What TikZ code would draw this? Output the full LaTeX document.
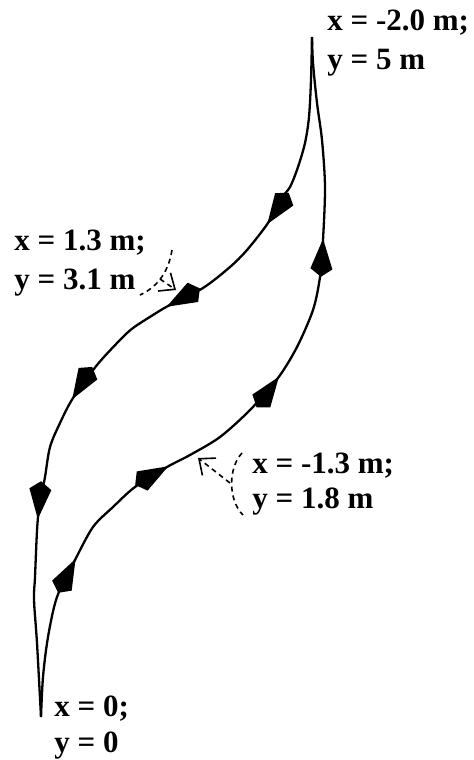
\documentclass[tikz,border=0pt]{standalone}
\usepackage{fontspec}
\setmainfont{Liberation Serif}
\usetikzlibrary{decorations.markings,arrows.meta}
\begin{document}
\begin{tikzpicture}[x=0.5pt,y=-0.5pt,
  lbl/.style={anchor=base west, inner sep=0pt, font=\bfseries\fontsize{15.5}{18}\selectfont},
  flow/.style={line width=1.15pt, line join=round},
  kite/.tip={Kite[length=19pt,width=11pt,inset=4pt]},
  hint/.style={dash pattern=on 2.5pt off 2pt, line width=0.8pt},
  hintarrow/.style={hint, -{Straight Barb[length=6.5pt,width=11pt]}}
]
\useasboundingbox (0,0) rectangle (474,760);

% end points of the loop
\coordinate (top) at (312,37);
\coordinate (bot) at (41,717);

% left branch: from top down to bottom
\draw[flow, postaction={decorate}, decoration={markings,
  mark=at position 0.250 with {\arrow{kite}},
  mark=at position 0.418 with {\arrow{kite}},
  mark=at position 0.588 with {\arrow{kite}},
  mark=at position 0.748 with {\arrow{kite}}}]
  plot[smooth, tension=0.5] coordinates {(top) (311,80) (309,117) (305,143) (298,167) (290,187) (280,200) (268,223) (247,250) (230,267) (203,288) (168,306) (153,315) (133,328) (120,340) (97,365) (73,398) (60,423) (50,447) (45,477) (38,517) (35,577) (34,600) (37,643) (bot)};

% right branch: from bottom up to top
\draw[flow, postaction={decorate}, decoration={markings,
  mark=at position 0.207 with {\arrow{kite}},
  mark=at position 0.376 with {\arrow{kite}},
  mark=at position 0.558 with {\arrow{kite}},
  mark=at position 0.744 with {\arrow{kite}}}]
  plot[smooth, tension=0.5] coordinates {(bot) (43,677) (48,637) (57,597) (75,560) (93,527) (113,507) (135,487) (167,467) (190,455) (220,437) (250,410) (278,378) (297,347) (313,310) (320,277) (323,240) (325,187) (322,140) (317,103) (313,63) (top)};

% labels
\node[lbl] (t1) at (327,30) {x = -2.0 m;};
\node[lbl] (t2) at (327,69) {y = 5 m};
\node[lbl] (u1) at (14,250) {x = 1.3 m;};
\node[lbl] (u2) at (14,289) {y = 3.1 m};
\node[lbl] (v1) at (252,473) {x = -1.3 m;};
\node[lbl] (v2) at (252,508) {y = 1.8 m};
\node[lbl] (w1) at (54,716) {x = 0;};
\node[lbl] (w2) at (54,752) {y = 0};

% pointer for (1.3, 3.1)
\coordinate (a1) at (172,250);
\coordinate (a2) at (140,295);
\coordinate (am) at (160,279);
\coordinate (at) at (176,290);
\draw[hint] (a1) .. controls (168,275) and (155,288) .. (a2);
\draw[hintarrow] (am) -- (at);

% pointer for (-1.3, 1.8)
\coordinate (b1) at (242,453);
\coordinate (b2) at (243,515);
\coordinate (bm) at (230,483);
\coordinate (bt) at (198,458);
\draw[hint] (b1) .. controls (228,468) and (228,500) .. (b2);
\draw[hintarrow] (bm) -- (bt);
\end{tikzpicture}
\end{document}
